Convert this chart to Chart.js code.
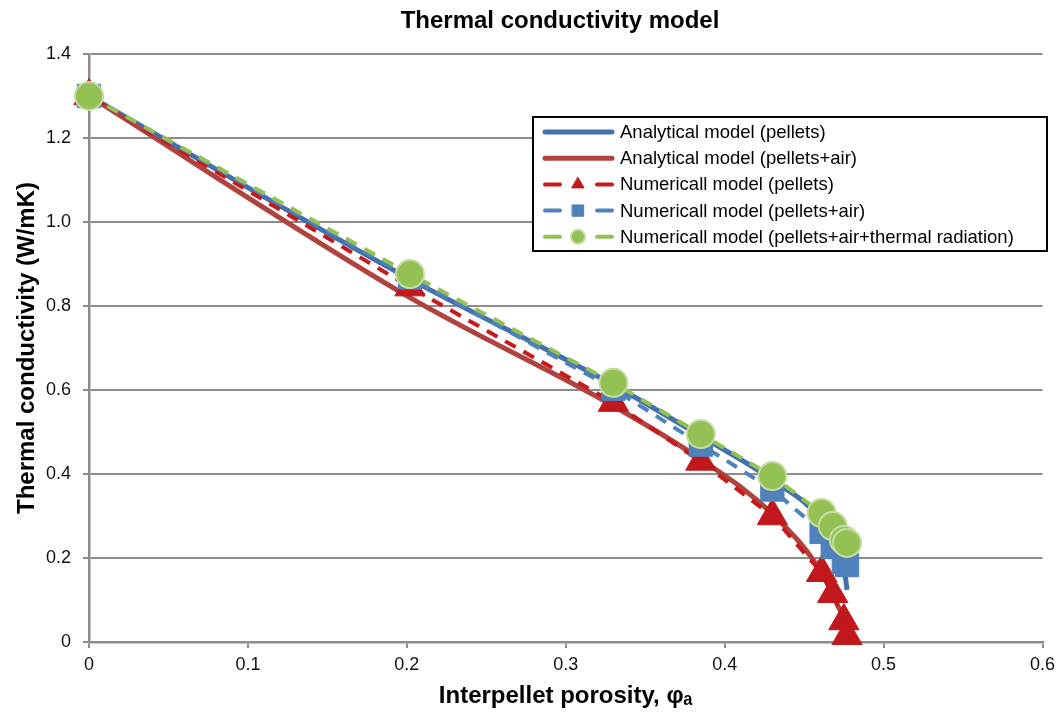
<!DOCTYPE html>
<html lang="en">

<head>
    <meta charset="UTF-8">
    <title>Thermal conductivity model</title>
    <script src="https://cdn.jsdelivr.net/npm/chart.js@4.4.0/dist/chart.umd.min.js"></script>
    <style>
        body { margin: 0; background: #fff; }
    </style>
</head>

<body>
    <canvas id="chart" width="1061" height="713"></canvas>

    <script>
        // interpellet porosity of each computed case
        const porosity = [0, 0.202, 0.33, 0.385, 0.43, 0.461, 0.468, 0.475, 0.477];

        // thermal conductivity, W/mK
        const analyticalPellets = [1.3, 0.864, 0.612, 0.49, 0.386, 0.29, 0.243, 0.18, 0.124];
        const analyticalAir = [1.3, 0.82, 0.562, 0.435, 0.305, 0.165, 0.11, 0.05, 0.01];
        const numericalPellets = [1.3, 0.845, 0.57, 0.43, 0.30, 0.165, 0.115, 0.05, 0.015];
        const numericalAir = [1.3, 0.868, 0.603, 0.47, 0.363, 0.262, 0.226, 0.19, 0.183];
        const numericalRadiation = [1.3, 0.876, 0.617, 0.495, 0.395, 0.307, 0.276, 0.243, 0.236];

        const seriesNames = [
            'Analytical model (pellets)',
            'Analytical model (pellets+air)',
            'Numericall model (pellets)',
            'Numericall model (pellets+air)',
            'Numericall model (pellets+air+thermal radiation)'
        ];

        const xTicks = [0, 0.1, 0.2, 0.3, 0.4, 0.5, 0.6];
        const yTicks = [0, 0.2, 0.4, 0.6, 0.8, 1.0, 1.2, 1.4];

        const points = ys => porosity.map((x, i) => ({ x: x, y: ys[i] }));
        const fmt = v => v === 0 ? '0' : v.toFixed(1);
        const fontFamily = '"Liberation Sans", Arial, sans-serif';

        // legend drawn inside the plot area, Excel style
        const legendBox = {
            id: 'legendBox',
            afterDraw(chart) {
                const ctx = chart.ctx;
                const left = 533, top = 117, width = 514, height = 134;
                ctx.save();
                ctx.fillStyle = '#fff';
                ctx.fillRect(left, top, width, height);
                ctx.lineWidth = 2;
                ctx.strokeStyle = '#000';
                ctx.strokeRect(left, top, width, height);

                chart.data.datasets.forEach((ds, i) => {
                    const y = 132 + i * 26.2;
                    ctx.strokeStyle = ds.borderColor;
                    ctx.lineWidth = ds.borderWidth;
                    ctx.lineCap = 'round';
                    ctx.beginPath();
                    if (ds.borderDash.length) {
                        ctx.moveTo(545, y); ctx.lineTo(560, y);
                        ctx.moveTo(597, y); ctx.lineTo(612, y);
                    } else {
                        ctx.moveTo(545, y); ctx.lineTo(612, y);
                    }
                    ctx.stroke();
                    if (ds.pointRadius > 0) {
                        ctx.fillStyle = ds.pointBackgroundColor;
                        ctx.strokeStyle = ds.pointBorderColor;
                        ctx.lineWidth = ds.pointBorderWidth;
                        Chart.helpers.drawPoint(ctx, {
                            pointStyle: ds.pointStyle,
                            radius: ds.legendRadius,
                            borderWidth: ds.pointBorderWidth
                        }, 578, y);
                    }
                    ctx.fillStyle = '#000';
                    ctx.font = '18.5px ' + fontFamily;
                    ctx.textAlign = 'left';
                    ctx.textBaseline = 'middle';
                    ctx.fillText(ds.label, 620, y + 1);
                });
                ctx.restore();
            }
        };

        // chart title
        const chartTitle = {
            id: 'chartTitle',
            afterDraw(chart) {
                const ctx = chart.ctx;
                ctx.save();
                ctx.fillStyle = '#000';
                ctx.font = 'bold 24px ' + fontFamily;
                ctx.textAlign = 'center';
                ctx.textBaseline = 'middle';
                ctx.fillText('Thermal conductivity model', 560, 21);
                ctx.restore();
            }
        };

        const ctx = document.getElementById('chart');

        new Chart(ctx, {
            type: 'line',
            data: {
                datasets: [{
                    label: seriesNames[0],
                    data: points(analyticalPellets),
                    borderColor: '#4271ab',
                    borderWidth: 5,
                    borderDash: [],
                    pointRadius: 0,
                    cubicInterpolationMode: 'monotone',
                    order: 5
                }, {
                    label: seriesNames[1],
                    data: points(analyticalAir),
                    borderColor: '#b0423f',
                    borderWidth: 5,
                    borderDash: [],
                    pointRadius: 0,
                    cubicInterpolationMode: 'monotone',
                    order: 4
                }, {
                    label: seriesNames[2],
                    data: points(numericalPellets),
                    borderColor: '#c8191d',
                    borderWidth: 4,
                    borderDash: [12, 9],
                    pointStyle: 'triangle',
                    pointRadius: 17.5,
                    legendRadius: 7,
                    pointBackgroundColor: '#c0181c',
                    pointBorderColor: '#c0181c',
                    pointBorderWidth: 1,
                    order: 3
                }, {
                    label: seriesNames[3],
                    data: points(numericalAir),
                    borderColor: '#4f81bd',
                    borderWidth: 4,
                    borderDash: [12, 9],
                    pointStyle: 'rect',
                    pointRadius: 16.5,
                    legendRadius: 8,
                    pointBackgroundColor: '#4f81bd',
                    pointBorderColor: '#4f81bd',
                    pointBorderWidth: 1,
                    order: 2
                }, {
                    label: seriesNames[4],
                    data: points(numericalRadiation),
                    borderColor: '#93c154',
                    borderWidth: 4,
                    borderDash: [12, 9],
                    pointStyle: 'circle',
                    pointRadius: 14,
                    legendRadius: 7,
                    pointBackgroundColor: '#93c154',
                    pointBorderColor: '#c6dba2',
                    pointBorderWidth: 2,
                    order: 1
                }]
            },
            options: {
                responsive: false,
                animation: false,
                clip: false,
                layout: { padding: { top: 54, right: 16, left: 0, bottom: 0 } },
                plugins: {
                    legend: { display: false },
                    tooltip: { enabled: false }
                },
                scales: {
                    x: {
                        type: 'linear',
                        min: 0,
                        max: 0.6,
                        afterBuildTicks: s => { s.ticks = xTicks.map(v => ({ value: v })); },
                        afterFit: s => {
                            s.height = 71;
                            s.paddingLeft = 0;
                            s.paddingRight = 0;
                        },
                        grid: { drawOnChartArea: false, drawTicks: true, tickLength: 6, color: '#8c8c8c', lineWidth: 2 },
                        border: { color: '#8c8c8c', width: 2.5 },
                        ticks: {
                            callback: fmt,
                            color: '#111',
                            padding: 6,
                            maxRotation: 0,
                            font: { family: fontFamily, size: 18 }
                        },
                        title: {
                            display: true,
                            text: 'Interpellet porosity, φₐ',
                            color: '#000',
                            padding: { top: 0, bottom: 2 },
                            font: { family: fontFamily, size: 24, weight: 'bold' }
                        }
                    },
                    y: {
                        min: 0,
                        max: 1.4,
                        afterBuildTicks: s => { s.ticks = yTicks.map(v => ({ value: v })); },
                        afterFit: s => { s.width = 89; },
                        grid: { color: '#8c8c8c', lineWidth: 2, tickLength: 6 },
                        border: { color: '#8c8c8c', width: 2.5 },
                        ticks: {
                            callback: fmt,
                            color: '#111',
                            padding: 12,
                            font: { family: fontFamily, size: 18 }
                        },
                        title: {
                            display: true,
                            text: 'Thermal conductivity (W/mK)',
                            color: '#000',
                            padding: { top: 13, bottom: 0 },
                            font: { family: fontFamily, size: 24, weight: 'bold' }
                        }
                    }
                }
            },
            plugins: [chartTitle, legendBox]
        });
    </script>

</body>

</html>
